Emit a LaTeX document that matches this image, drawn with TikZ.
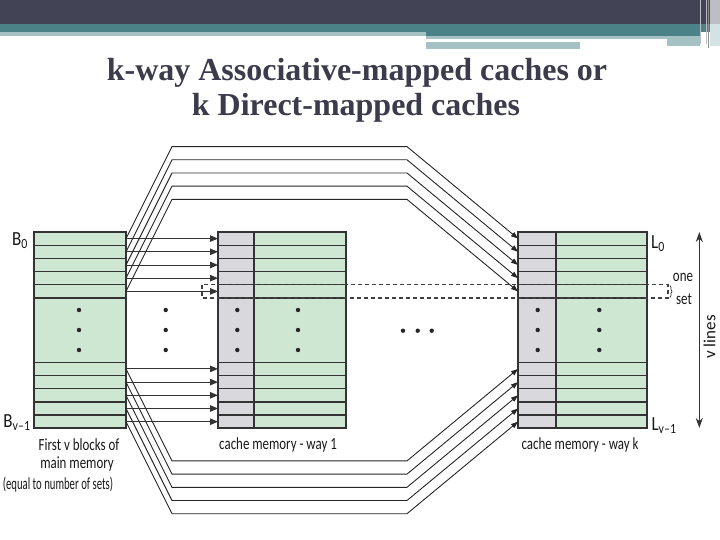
\documentclass[tikz,border=0pt]{standalone}
\usepackage{fontspec}
\setmainfont{Carlito}
\newfontfamily\titlefont{Liberation Serif}
\usetikzlibrary{arrows.meta,decorations.pathreplacing}
\definecolor{hdrdark}{HTML}{434356}
\definecolor{hdrteal}{HTML}{4B8288}
\definecolor{hdrlight}{HTML}{A5C1C3}
\definecolor{hdrside}{HTML}{BDBDC6}
\definecolor{hdrside2}{HTML}{D3E2E2}
\definecolor{memgreen}{HTML}{CDE7D3}
\definecolor{taggray}{HTML}{D9D9DD}
\definecolor{edge}{HTML}{333333}
\definecolor{titlecol}{HTML}{3B3B4B}
\begin{document}
\begin{tikzpicture}[x=1pt,y=-1pt,
  lbl/.style={font=\fontsize{17}{19}\selectfont, inner sep=0pt, text=black!90, xscale=0.76},
  biglbl/.style={font=\fontsize{20}{22}\selectfont, inner sep=0pt, text=black!90, xscale=0.85},
  titlestyle/.style={font=\titlefont\bfseries\fontsize{32}{36}\selectfont, text=titlecol, anchor=base, inner sep=0pt},
  border/.style={draw=edge, line width=2.2pt},
  rowline/.style={draw=edge, line width=1.3pt},
  fan/.style={draw=black!85, line width=0.9pt, -{Triangle[length=7pt,width=5pt]}},
  harrow/.style={draw=edge, line width=1pt, -{Triangle[length=8pt,width=6.5pt]}},
  dotmark/.style={circle, fill=black!85, inner sep=0pt, minimum size=4.4pt},
  setbox/.style={draw=black!75, line width=1.3pt, dash pattern=on 4pt off 3pt}
]
\useasboundingbox (0,0) rectangle (720,540);
\fill[white] (0,0) rectangle (720,540);
% header
\fill[hdrdark] (0,0) rectangle (720,24);
\fill[hdrteal] (0,24) rectangle (720,32);
\fill[hdrlight] (0,32) rectangle (426,36);
\fill[hdrteal] (426,32) rectangle (700,36);
\fill[hdrlight] (426,36) rectangle (700,38.7);
\fill[hdrlight] (426,42) rectangle (580,48.7);
\fill[hdrlight] (667,36) rectangle (700,46);
\fill[hdrside] (710,0) rectangle (720,24);
\fill[hdrside2] (710,24) rectangle (720,46);
\draw[hdrside, line width=1pt] (700,0) -- (700,44);
\draw[hdrside, line width=1pt] (706,0) -- (706,44);
\draw[black!45, line width=1pt] (708.5,0) -- (708.5,48);
% title
\node[titlestyle] (t1) at (357,81) {k-way Associative-mapped caches or};
\node[titlestyle] (t2) at (356,116) {k Direct-mapped caches};
% main memory block
\fill[memgreen] (34,232) rectangle (126,428.3);
\foreach \i in {1,...,5} {
  \draw[rowline] (34,{232+13.2*\i}) -- (126,{232+13.2*\i});
  \draw[rowline] (34,{428.3-13.2*\i}) -- (126,{428.3-13.2*\i});
}
\draw[border] (34,232) rectangle (126,428.3);
% way 1
\fill[taggray] (218,232) rectangle (254,428.3);
\fill[memgreen] (254,232) rectangle (346,428.3);
\foreach \i in {1,...,5} {
  \draw[rowline] (218,{232+13.2*\i}) -- (346,{232+13.2*\i});
  \draw[rowline] (218,{428.3-13.2*\i}) -- (346,{428.3-13.2*\i});
}
\draw[border] (254,232) -- (254,428.3);
\draw[border] (218,232) rectangle (346,428.3);
% way k
\fill[taggray] (518,232) rectangle (556,428.3);
\fill[memgreen] (556,232) rectangle (647,428.3);
\foreach \i in {1,...,5} {
  \draw[rowline] (518,{232+13.2*\i}) -- (647,{232+13.2*\i});
  \draw[rowline] (518,{428.3-13.2*\i}) -- (647,{428.3-13.2*\i});
}
\draw[border] (556,232) -- (556,428.3);
\draw[border] (518,232) rectangle (647,428.3);
% coordinates of rows
\foreach \i in {0,...,4} {
  \coordinate (mt\i) at (126,{238.6+13.2*\i});
  \coordinate (at\i) at (218,{238.6+13.2*\i});
  \coordinate (kt\i) at (518,{238.6+13.2*\i});
  \coordinate (mb\i) at (126,{368.9+13.2*\i});
  \coordinate (ab\i) at (218,{368.9+13.2*\i});
  \coordinate (kb\i) at (518,{368.9+13.2*\i});
}
% connectors
\foreach \i in {0,...,4} {
  \draw[harrow] (mt\i) -- (at\i);
  \draw[harrow] (mb\i) -- (ab\i);
  \draw[fan] (mt\i) -- ++(46,-92) -- ++(235,0) -- (kt\i);
  \draw[fan] (mb\i) -- ++(46,92) -- ++(235,0) -- (kb\i);
}
% dots
\foreach \x in {79,165.7,237.3,298,537.7,599.3} {
  \foreach \y in {310,330,350} {
    \node[dotmark] at (\x,\y) {};
  }
}
\foreach \x in {403,417.7,431.7} {
  \node[dotmark] at (\x,330.7) {};
}
% one set box
\draw[setbox] (202,284.8) rectangle (668,298);
\draw[black!75, line width=0.8pt, decorate, decoration={brace, amplitude=2pt}] (670,285.5) -- (670,297.5);
\node[lbl] (one) at (683,277) {one};
\node[lbl] (set) at (684,299) {set};
% v lines arrow
\coordinate (vtop) at (699.3,232);
\coordinate (vbot) at (699.3,428);
\draw[edge, line width=1.4pt, {Stealth[length=10pt,width=7pt]}-{Stealth[length=10pt,width=7pt]}] (vtop) -- (vbot);
\node[font=\fontsize{17}{19}\selectfont, inner sep=0pt, text=black!90, rotate=90] (vl) at (709.5,337) {v lines};
% labels
\node[biglbl] (b0) at (20,241) {B\textsubscript{0}};
\node[biglbl] (bv) at (17,423) {B\textsubscript{v–1}};
\node[biglbl] (l0) at (658,244) {L\textsubscript{0}};
\node[biglbl] (lv) at (664,426) {L\textsubscript{v–1}};
\node[lbl] (c1) at (79,445) {First v blocks of};
\node[lbl] (c2) at (77,464) {main memory};
\node[lbl, xscale=0.83] (c3) at (58,485) {(equal to number of sets)};
\node[lbl] (w1) at (278,445) {cache memory - way 1};
\node[lbl] (wk) at (580,445) {cache memory - way k};
\end{tikzpicture}
\end{document}
